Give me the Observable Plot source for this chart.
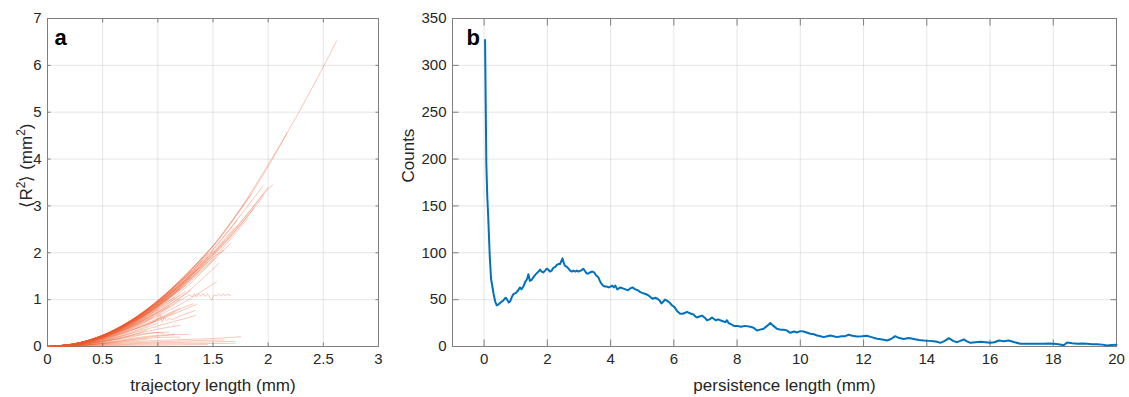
<!DOCTYPE html>
<html><head><meta charset="utf-8">
<script src="https://cdn.jsdelivr.net/npm/d3@7"></script>
<script src="https://cdn.jsdelivr.net/npm/@observablehq/plot@0.6"></script>
<style>
body{margin:0;background:#fff;}
#wrap{position:relative;width:1129px;height:397px;overflow:hidden;background:#fff;}
#pa{position:absolute;left:0;top:0;}
#pb{position:absolute;left:390px;top:0;}
</style></head><body><div id="wrap"><div id="pa"></div><div id="pb"></div></div>
<script>
// ---------- Panel a data: <R^2> vs trajectory length (one track per array) ----------
const tracksUpper = [
  [[0,0],[0.25,0.06],[0.5,0.24],[0.75,0.55],[1,0.98],[1.25,1.52],[1.5,2.15],[1.75,2.95],[2,3.88],[2.25,4.88],[2.5,5.97],[2.62,6.52]],
  [[0,0],[0.25,0.06],[0.5,0.24],[0.75,0.54],[1,0.97],[1.25,1.5],[1.5,2.13],[1.75,2.92],[2,3.84],[2.17,4.55]],
  [[0,0],[0.25,0.06],[0.5,0.23],[0.75,0.52],[1,0.92],[1.25,1.42],[1.5,1.99],[1.75,2.66],[2,3.36],[2.04,3.45]],
  [[0,0],[0.25,0.05],[0.5,0.22],[0.75,0.5],[1,0.9],[1.25,1.4],[1.5,1.96],[1.75,2.64],[2,3.4]],
  [[0,0],[0.25,0.05],[0.5,0.22],[0.75,0.5],[1,0.9],[1.25,1.39],[1.5,1.95],[1.75,2.6],[1.96,3.22]],
  [[0,0],[0.25,0.05],[0.5,0.22],[0.75,0.49],[1,0.88],[1.25,1.36],[1.5,1.92],[1.75,2.6],[1.87,2.95]],
  [[0,0],[0.25,0.05],[0.5,0.21],[0.75,0.48],[1,0.86],[1.25,1.33],[1.5,1.87],[1.82,2.75]],
  [[0,0],[0.25,0.05],[0.5,0.21],[0.75,0.47],[1,0.84],[1.25,1.3],[1.5,1.84],[1.66,2.2]],
  [[0,0],[0.25,0.05],[0.5,0.21],[0.75,0.48],[1,0.86],[1.25,1.33],[1.5,1.9],[1.6,2.05]],
  [[0,0],[0.25,0.05],[0.5,0.2],[0.75,0.45],[1,0.8],[1.25,1.25],[1.53,1.9]],
  [[0,0],[0.25,0.05],[0.5,0.19],[0.75,0.42],[1,0.74],[1.25,1.13],[1.55,1.77]],
  [[0,0],[0.25,0.04],[0.5,0.17],[0.75,0.38],[1,0.65],[1.25,0.96],[1.53,1.38]],
  [[0,0],[0.25,0.06],[0.5,0.24],[0.75,0.55],[1,0.98],[1.25,1.52],[1.5,2.15]],
  [[0,0],[0.25,0.06],[0.5,0.23],[0.75,0.53],[1,0.95],[1.25,1.47],[1.45,1.98]],
  [[0,0],[0.25,0.06],[0.5,0.23],[0.75,0.52],[1,0.93],[1.25,1.44],[1.4,1.83]],
  [[0,0],[0.25,0.06],[0.5,0.22],[0.75,0.51],[1,0.91],[1.25,1.41],[1.35,1.64]],
  [[0,0],[0.25,0.05],[0.5,0.22],[0.75,0.5],[1,0.88],[1.3,1.48]],
  [[0,0],[0.25,0.05],[0.5,0.21],[0.75,0.48],[1,0.86],[1.2,1.24]],
  [[0,0],[0.25,0.05],[0.5,0.2],[0.75,0.47],[1,0.83],[1.1,1.0]],
  [[0,0],[0.25,0.05],[0.5,0.2],[0.75,0.45],[1,0.8]],
  [[0,0],[0.25,0.05],[0.5,0.19],[0.75,0.44],[0.9,0.63]],
  [[0,0],[0.25,0.05],[0.5,0.19],[0.75,0.43],[1,0.76],[1.25,1.18]],
  [[0,0],[0.25,0.04],[0.5,0.18],[0.75,0.41],[1,0.73],[1.3,1.2]],
  [[0,0],[0.25,0.04],[0.5,0.17],[0.75,0.4],[1,0.7],[1.2,1.0]],
  [[0,0],[0.25,0.06],[0.5,0.23],[0.75,0.53],[1,0.95],[1.2,1.4]],
  [[0,0],[0.25,0.06],[0.5,0.24],[0.75,0.54],[1,0.97],[1.1,1.18]],
  [[0,0],[0.25,0.06],[0.5,0.23],[0.75,0.53],[0.95,0.87]],
  [[0,0],[0.25,0.05],[0.5,0.22],[0.75,0.5],[1,0.88],[1.25,1.37],[1.45,1.9]],
  [[0,0],[0.25,0.06],[0.5,0.22],[0.75,0.51],[1,0.9],[1.25,1.4],[1.5,1.98],[1.6,2.25]],
  [[0,0],[0.25,0.06],[0.5,0.23],[0.75,0.52],[1,0.92],[1.25,1.43],[1.5,2.02],[1.7,2.55]],
  [[0,0],[0.25,0.06],[0.5,0.24],[0.75,0.55],[1,0.97],[1.25,1.5],[1.4,1.9]],
  [[0,0],[0.25,0.06],[0.5,0.24],[0.75,0.54],[1,0.96],[1.3,1.6]],
  [[0,0],[0.25,0.06],[0.5,0.23],[0.75,0.53],[1,0.94],[1.15,1.23]],
  [[0,0],[0.25,0.06],[0.5,0.23],[0.75,0.52],[1,0.92],[1.25,1.43],[1.5,2.03]],
  [[0,0],[0.25,0.06],[0.5,0.24],[0.75,0.54],[0.9,0.78]],
  [[0,0],[0.25,0.05],[0.5,0.22],[0.75,0.5],[1,0.87],[1.25,1.35],[1.45,1.8]],
  [[0,0],[0.25,0.05],[0.5,0.21],[0.75,0.48],[1,0.85],[1.25,1.3]],
  [[0,0],[0.25,0.05],[0.5,0.2],[0.75,0.46],[1,0.82],[1.15,1.05]],
  [[0,0],[0.25,0.05],[0.5,0.2],[0.75,0.44],[1,0.78],[1.2,1.1]],
  [[0,0],[0.25,0.05],[0.5,0.19],[0.75,0.42],[1,0.72],[1.1,0.85]],
  [[0,0],[0.25,0.04],[0.5,0.18],[0.75,0.4],[0.95,0.62]],
  [[0,0],[0.25,0.06],[0.5,0.24],[0.75,0.55],[1,0.98],[1.25,1.52],[1.5,2.15],[1.75,2.93],[1.85,3.25]],
  [[0,0],[0.25,0.06],[0.5,0.23],[0.75,0.53],[1,0.95],[1.25,1.47],[1.5,2.08],[1.75,2.8],[1.95,3.42]],
  [[0,0],[0.25,0.06],[0.5,0.23],[0.75,0.53],[1,0.94],[1.25,1.46],[1.5,2.06],[1.72,2.7]]
];
const tracksMiddle = [
  [[0,0],[0.25,0.04],[0.5,0.16],[0.75,0.37],[1,0.68],[1.15,0.9],[1.25,1.05],[1.29,1.1],[1.31,1.06],[1.33,1.12],[1.35,1.06],[1.37,1.12],[1.39,1.07],[1.41,1.13],[1.43,1.07],[1.45,1.12],[1.47,1.06],[1.49,1.0],[1.51,1.1],[1.53,1.08],[1.55,1.12],[1.57,1.08],[1.59,1.12],[1.61,1.09],[1.63,1.11],[1.66,1.08]],
  [[0,0],[0.25,0.03],[0.5,0.13],[0.75,0.3],[0.95,0.5],[1,0.6],[1.02,0.68],[1.04,0.52],[1.06,0.62],[1.08,0.55],[1.1,0.6],[1.13,0.58],[1.2,0.65],[1.34,0.77]],
  [[0,0],[0.25,0.03],[0.5,0.12],[0.75,0.27],[1,0.44],[1.25,0.6],[1.34,0.66]],
  [[0,0],[0.25,0.04],[0.5,0.14],[0.75,0.33],[1,0.58],[1.25,0.85],[1.32,0.91]],
  [[0,0],[0.25,0.03],[0.5,0.11],[0.75,0.24],[1,0.37],[1.2,0.45]],
  [[0,0],[0.25,0.03],[0.5,0.12],[0.75,0.28],[1,0.5]],
  [[0,0],[0.25,0.03],[0.5,0.1],[0.75,0.23],[0.9,0.35]],
  [[0,0],[0.25,0.04],[0.5,0.15],[0.75,0.34],[1,0.57],[1.15,0.72]],
  [[0,0],[0.25,0.04],[0.5,0.16],[0.75,0.36],[1,0.6],[1.2,0.82]],
  [[0,0],[0.25,0.04],[0.5,0.15],[0.75,0.34],[1,0.55],[1.25,0.8],[1.35,0.9]]
];
const tracksLower = [
  [[0,0],[0.25,0.02],[0.5,0.06],[0.75,0.1],[1,0.13],[1.25,0.15],[1.5,0.17],[1.75,0.21]],
  [[0,0],[0.25,0.015],[0.5,0.04],[0.75,0.06],[1,0.08],[1.25,0.09],[1.5,0.1],[1.7,0.11]],
  [[0,0],[0.25,0.01],[0.5,0.03],[0.75,0.045],[1,0.055],[1.25,0.06],[1.5,0.065],[1.7,0.07]],
  [[0,0],[0.25,0.02],[0.5,0.08],[0.75,0.17],[1,0.24],[1.28,0.26]],
  [[0,0],[0.25,0.03],[0.5,0.1],[0.75,0.22],[0.9,0.28],[1.1,0.31]],
  [[0,0],[0.25,0.02],[0.5,0.07],[0.75,0.14],[1,0.19],[1.2,0.2]],
  [[0,0],[0.25,0.03],[0.5,0.11],[0.75,0.2],[0.9,0.27],[1,0.3],[1.05,0.28]],
  [[0,0],[0.25,0.02],[0.5,0.05],[0.75,0.08],[1,0.1],[1.25,0.12],[1.6,0.14]],
  [[0,0],[0.5,0.02],[1,0.03],[1.45,0.04]],
  [[0,0],[0.25,0.02],[0.5,0.07],[0.75,0.15],[1,0.22],[1.15,0.25]],
  [[0,0],[0.25,0.02],[0.5,0.06],[0.75,0.12],[0.9,0.15]]
];
const xTicksA = [0, 0.5, 1, 1.5, 2, 2.5, 3];
const yTicksA = [0, 1, 2, 3, 4, 5, 6, 7];

// ---------- Panel b data: persistence-length histogram ----------
const persistence = [0.03,0.05,0.07,0.1,0.13,0.18,0.22,0.3,0.35,0.4,0.46,0.52,0.6,0.68,0.71,0.78,0.82,0.88,0.93,1.0,1.08,1.13,1.18,1.24,1.3,1.36,1.4,1.45,1.5,1.56,1.63,1.66,1.72,1.77,1.82,1.87,1.93,1.98,2.03,2.08,2.14,2.19,2.25,2.3,2.35,2.4,2.44,2.48,2.52,2.56,2.62,2.67,2.72,2.77,2.82,2.88,2.93,2.98,3.06,3.14,3.2,3.24,3.3,3.35,3.42,3.48,3.54,3.61,3.66,3.71,3.76,3.82,3.88,3.94,4.0,4.05,4.1,4.15,4.21,4.31,4.39,4.47,4.55,4.62,4.7,4.78,4.86,4.94,5.02,5.1,5.18,5.25,5.33,5.41,5.48,5.55,5.61,5.67,5.72,5.78,5.86,5.94,6.02,6.1,6.2,6.28,6.36,6.42,6.47,6.55,6.63,6.68,6.73,6.81,6.89,6.97,7.05,7.13,7.21,7.28,7.34,7.4,7.47,7.55,7.63,7.68,7.73,7.8,7.9,8.0,8.12,8.25,8.42,8.52,8.63,8.73,8.84,8.95,9.05,9.15,9.26,9.37,9.47,9.58,9.68,9.8,9.9,10.0,10.1,10.2,10.32,10.43,10.53,10.64,10.74,10.85,10.95,11.05,11.16,11.3,11.42,11.53,11.65,11.79,11.95,12.1,12.25,12.43,12.6,12.74,12.87,13.0,13.13,13.27,13.43,13.59,13.75,13.9,14.06,14.22,14.32,14.43,14.57,14.7,14.83,14.96,15.06,15.17,15.27,15.38,15.54,15.7,15.85,16.01,16.14,16.28,16.43,16.59,16.78,16.96,17.17,17.38,17.54,17.7,17.86,18.02,18.17,18.33,18.44,18.6,18.76,18.92,19.07,19.23,19.39,19.55,19.7,19.85,20.0];
const counts = [327,260,195,160,138,95,72,56,48,44,
  45,47,49,52,51,47,48,53,56,57,
  60,63,61,64,69,72,77,70,71,74,
  77,78,80,82,80,79,81,83,82,80,
  81,84,85,87,88,88,91,94,89,86,
  85,83,81,80,81,80,81,80,81,83,
  80,78,78,79,80,79,76,74,70,67,
  65,64,64,63,64,65,63,65,61,63,
  62,61,60,62,63,61,60,58,57,56,
  55,53,51,52,51,49,46,48,50,49,
  47,44,42,38,35,35,36,37,36,35,
  34,32,31,32,33,31,28,29,31,29,
  28,29,28,27,26,28,25,24,22,22,
  21,22,21,20,17,18,19,22,25,22,
  19,18,18,17,14.6,16,15,16.4,16,15,
  13.6,13,11.8,11,10,11,11.8,11,10,11,
  11,12.5,11.5,10.7,11,11.4,10,8.2,7.5,6.4,
  8,11,9,8,9,8,7,6.4,6,5.7,
  5,3.9,6,8.9,6,4.6,6,7.5,5.5,3.9,
  4.5,5,4.5,3.9,4.5,6.4,5.5,6.4,4.5,2.9,
  3,2.9,3,2.9,3.2,2.9,2.5,1.4,4.3,3.5,
  2.9,3.2,2.9,2.5,2.5,2,1.1,1.5,1.8];
const xTicksB = [0, 2, 4, 6, 8, 10, 12, 14, 16, 18, 20];
const yTicksB = [0, 50, 100, 150, 200, 250, 300, 350];

// ---------- styling ----------
const FONT = "'Liberation Sans', Arial, Helvetica, sans-serif";
const TXT = "#262626";
const AX = "#7f7f7f";
const GRID = {stroke: "#262626", strokeOpacity: 0.12, strokeWidth: 1};

function boxAxes(xt, yt, len) {
  return [
    Plot.axisX(xt, {anchor: "bottom", tickSize: -len, text: null, label: null, stroke: AX}),
    Plot.axisX(xt, {anchor: "top", tickSize: -len, text: null, label: null, stroke: AX}),
    Plot.axisY(yt, {anchor: "left", tickSize: -len, text: null, label: null, stroke: AX}),
    Plot.axisY(yt, {anchor: "right", tickSize: -len, text: null, label: null, stroke: AX}),
    Plot.axisX(xt, {anchor: "bottom", tickSize: 0, tickPadding: 7, label: null, fontSize: 15, fill: TXT, tickFormat: d => String(d)}),
    Plot.axisY(yt, {anchor: "left", tickSize: 0, tickPadding: 6, label: null, fontSize: 15, fill: TXT, tickFormat: d => String(d)})
  ];
}

const toRows = (list, offset) => list.flatMap((t, i) => t.map(([x, y]) => ({x, y, id: offset + i})));
const rowsA = [
  ...toRows(tracksUpper, 0),
  ...toRows(tracksMiddle, 100),
  ...toRows(tracksLower, 200)
];

const plotA = Plot.plot({
  width: 390, height: 397,
  marginLeft: 47, marginRight: 12, marginTop: 18, marginBottom: 51,
  style: {fontFamily: FONT, fontSize: "15px", color: TXT, background: "#fff", overflow: "visible"},
  x: {domain: [0, 3]},
  y: {domain: [0, 7]},
  marks: [
    Plot.gridX(xTicksA, GRID),
    Plot.gridY(yTicksA, GRID),
    Plot.frame({stroke: AX}),
    ...boxAxes(xTicksA, yTicksA, 3.5),
    Plot.line(rowsA, {x: "x", y: "y", z: "id", stroke: "#E9572A", strokeOpacity: 0.33, strokeWidth: 1, curve: "catmull-rom"}),
    Plot.text(["trajectory length (mm)"], {frameAnchor: "bottom", dy: 39, fontSize: 17, fill: TXT, lineAnchor: "middle"}),
    Plot.text(["\u27E8R2\u27E9 (mm2)"], {frameAnchor: "left", dx: -21, dy: 25, rotate: -90, fontSize: 17, fill: TXT, lineAnchor: "middle", className: "ylabA"}),
    Plot.text(["a"], {frameAnchor: "top-left", dx: 7, dy: 19, textAnchor: "start", lineAnchor: "middle", fontSize: 22, fontWeight: "bold", fill: "#000"})
  ]
});
document.getElementById("pa").append(plotA);
// superscripts in the y label
const lab = plotA.querySelector("g.ylabA text");
if (lab) {
  lab.textContent = "";
  const parts = [["\u27E8R", false], ["2", true], ["\u27E9 (mm", false], ["2", true], [")", false]];
  for (const [s, sup] of parts) {
    const ts = document.createElementNS("http://www.w3.org/2000/svg", "tspan");
    ts.textContent = s;
    if (sup) { ts.setAttribute("baseline-shift", "super"); ts.setAttribute("font-size", "12"); }
    lab.appendChild(ts);
  }
}

const rowsB = persistence.map((x, i) => ({x, y: counts[i]}));
const plotB = Plot.plot({
  width: 739, height: 397,
  marginLeft: 62, marginRight: 13, marginTop: 18, marginBottom: 51,
  style: {fontFamily: FONT, fontSize: "15px", color: TXT, background: "#fff", overflow: "visible"},
  x: {domain: [-1, 20]},
  y: {domain: [0, 350]},
  marks: [
    Plot.gridX(xTicksB, GRID),
    Plot.gridY(yTicksB, GRID),
    Plot.frame({stroke: AX}),
    ...boxAxes(xTicksB, yTicksB, 6.5),
    Plot.line(rowsB, {x: "x", y: "y", stroke: "#0072BD", strokeWidth: 2}),
    Plot.text(["persistence length (mm)"], {frameAnchor: "bottom", dy: 39, fontSize: 17, fill: TXT, lineAnchor: "middle"}),
    Plot.text(["Counts"], {frameAnchor: "left", dx: -44, rotate: -90, fontSize: 17, fill: TXT, lineAnchor: "middle"}),
    Plot.text(["b"], {frameAnchor: "top-left", dx: 14, dy: 19, textAnchor: "start", lineAnchor: "middle", fontSize: 22, fontWeight: "bold", fill: "#000"})
  ]
});
document.getElementById("pb").append(plotB);
</script>
</body></html>
